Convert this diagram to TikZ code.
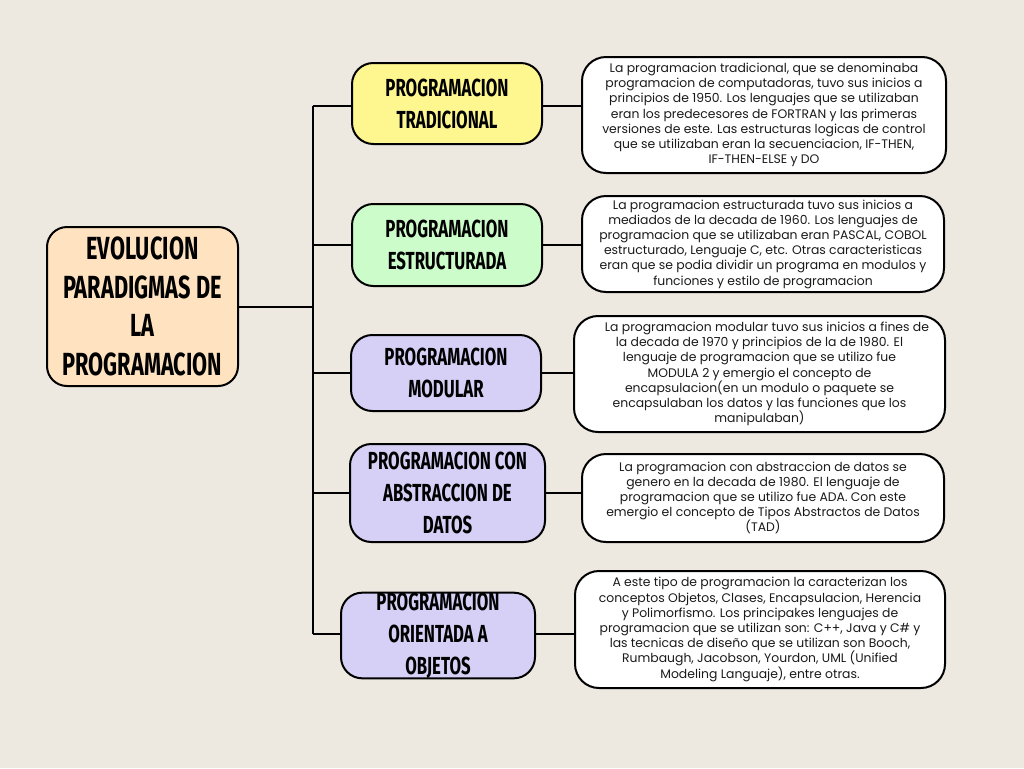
\documentclass[tikz,border=0pt]{standalone}
\usepackage{fontspec}
\setmainfont{Poppins}
\newfontfamily\titlefont[FakeStretch=0.68]{Fira Sans}
\definecolor{bg}{HTML}{EDE9E1}
\definecolor{peach}{HTML}{FFE3C1}
\definecolor{yel}{HTML}{FEF68E}
\definecolor{grn}{HTML}{CDFCCB}
\definecolor{lav}{HTML}{D6CFF6}
\definecolor{ink}{HTML}{1A1A1A}
\tikzset{
  mainbox/.style={draw=black, line width=1.5pt, rounded corners=15pt, align=center, inner sep=0pt,
    font=\titlefont\bfseries\fontsize{24}{29}\selectfont},
  titlebox/.style={draw=black, line width=1.5pt, rounded corners=16pt, align=center, inner sep=0pt,
    font=\titlefont\bfseries\fontsize{18.5}{24}\selectfont},
  descbox/.style={draw=black, line width=1.5pt, rounded corners=18pt, fill=white, align=center, inner sep=0pt,
    text=ink, font=\fontsize{9.3}{11.4}\selectfont},
  link/.style={draw=black, line width=1.5pt}
}
\begin{document}
\begin{tikzpicture}[x=0.75pt,y=-0.75pt]
\useasboundingbox (0,0) rectangle (1024,768);
\fill[bg] (0,0) rectangle (1024,768);

% central
\node[mainbox, fill=peach, minimum width=191*0.75pt, minimum height=159*0.75pt] (c) at (142.5,306.5)
  {EVOLUCION\\PARADIGMAS DE\\LA\\PROGRAMACION};

% titles
\node[titlebox, fill=yel, minimum width=190*0.75pt, minimum height=81*0.75pt] (t1) at (447,103.5)
  {PROGRAMACION\\TRADICIONAL};
\node[titlebox, fill=grn, minimum width=190*0.75pt, minimum height=82*0.75pt] (t2) at (447,245)
  {PROGRAMACION\\ESTRUCTURADA};
\node[titlebox, fill=lav, minimum width=190*0.75pt, minimum height=76*0.75pt] (t3) at (446,373)
  {PROGRAMACION\\MODULAR};
\node[titlebox, fill=lav, minimum width=195*0.75pt, minimum height=98*0.75pt] (t4) at (447.5,493)
  {PROGRAMACION CON\\ABSTRACCION DE\\DATOS};
\node[titlebox, fill=lav, minimum width=194*0.75pt, minimum height=85*0.75pt] (t5) at (438,635.5)
  {PROGRAMACION\\ORIENTADA A\\OBJETOS};

% descriptions
\node[descbox, minimum width=364*0.75pt, minimum height=116*0.75pt] (d1) at (764,115)
  {La programacion tradicional, que se denominaba\\
   programacion de computadoras, tuvo sus inicios a\\
   principios de 1950. Los lenguajes que se utilizaban\\
   eran los predecesores de FORTRAN y las primeras\\
   versiones de este. Las estructuras logicas de control\\
   que se utilizaban eran la secuenciacion, IF-THEN,\\
   IF-THEN-ELSE y DO};
\node[descbox, minimum width=362*0.75pt, minimum height=96*0.75pt] (d2) at (763,244)
  {La programacion estructurada tuvo sus inicios a\\
   mediados de la decada de 1960. Los lenguajes de\\
   programacion que se utilizaban eran PASCAL, COBOL\\
   estructurado, Lenguaje C, etc. Otras caracteristicas\\
   eran que se podia dividir un programa en modulos y\\
   funciones y estilo de programacion};
\node[descbox, minimum width=371*0.75pt, minimum height=116*0.75pt] (d3) at (759.5,374)
  {\hspace*{1.2em}La programacion modular tuvo sus inicios a fines de\\
   la decada de 1970 y principios de la de 1980. El\\
   lenguaje de programacion que se utilizo fue\\
   MODULA 2 y emergio el concepto de\\
   encapsulacion(en un modulo o paquete se\\
   encapsulaban los datos y las funciones que los\\
   manipulaban)};
\node[descbox, minimum width=362*0.75pt, minimum height=88*0.75pt] (d4) at (763,498)
  {La programacion con abstraccion de datos se\\
   genero en la decada de 1980. El lenguaje de\\
   programacion que se utilizo fue ADA. Con este\\
   emergio el concepto de Tipos Abstractos de Datos\\
   (TAD)};
\node[descbox, minimum width=370*0.75pt, minimum height=117*0.75pt] (d5) at (760,629.5)
  {A este tipo de programacion la caracterizan los\\
   conceptos Objetos, Clases, Encapsulacion, Herencia\\
   y Polimorfismo. Los principakes lenguajes de\\
   programacion que se utilizan son: C++, Java y C\# y\\
   las tecnicas de diseño que se utilizan son Booch,\\
   Rumbaugh, Jacobson, Yourdon, UML (Unified\\
   Modeling Languaje), entre otras.};

% trunk
\coordinate (top) at (313,106);
\coordinate (bot) at (313,634);
\draw[link] (top) -- (bot);
\draw[link] (c.east) -- (c.east -| top);
\draw[link] (top) -- (top -| t1.west);
\draw[link] (t2.west -| top) -- (t2.west);
\draw[link] (t3.west -| top) -- (t3.west);
\draw[link] (t4.west -| top) -- (t4.west);
\draw[link] (bot) -- (bot -| t5.west);

% title to description
\draw[link] (top -| t1.east) -- (top -| d1.west);
\draw[link] (t2.east) -- (t2.east -| d2.west);
\draw[link] (t3.east) -- (t3.east -| d3.west);
\draw[link] (t4.east) -- (t4.east -| d4.west);
\draw[link] (bot -| t5.east) -- (bot -| d5.west);
\end{tikzpicture}
\end{document}
